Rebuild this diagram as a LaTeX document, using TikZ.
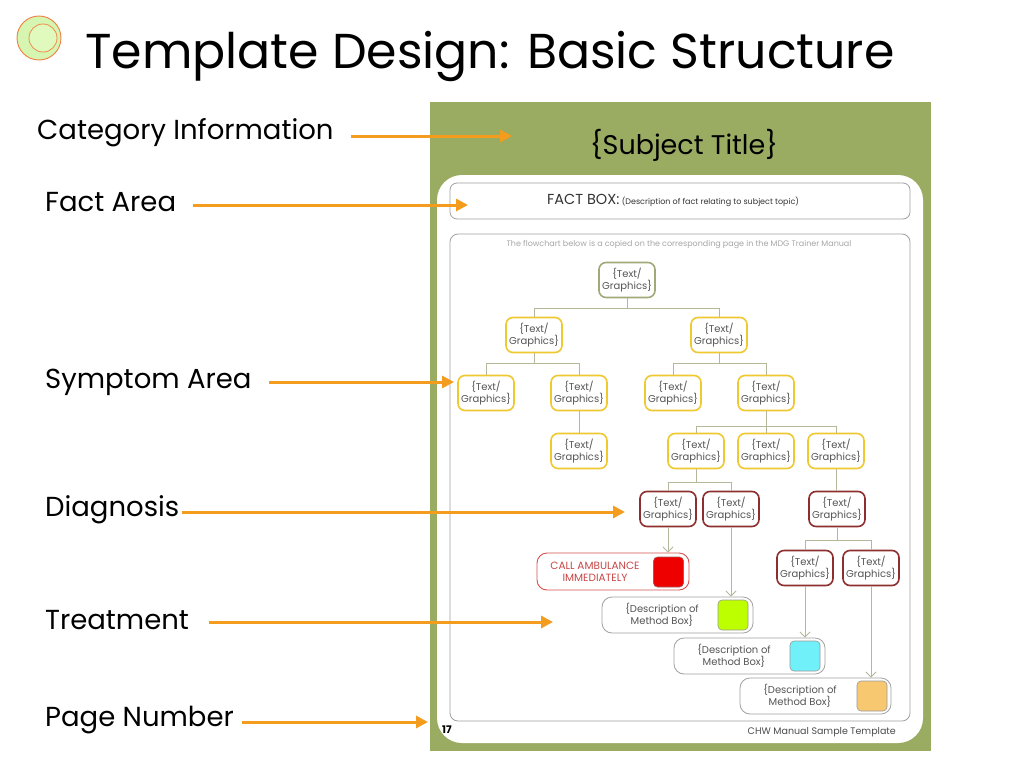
\documentclass[tikz,border=0pt]{standalone}
\usepackage{fontspec}
\setmainfont{Poppins}
\usetikzlibrary{arrows.meta}
\definecolor{pagegreen}{HTML}{9AAB62}
\definecolor{orangeA}{HTML}{F39C1E}
\definecolor{olivebd}{HTML}{A3A878}
\definecolor{yellowbd}{HTML}{F0C830}
\definecolor{redbd}{HTML}{8E2F2F}
\definecolor{linegray}{HTML}{B5B79A}
\definecolor{boxgray}{HTML}{A0A0A0}
\definecolor{txtgray}{HTML}{555555}
\begin{document}
\begin{tikzpicture}[x=1pt,y=-1pt,
  lab/.style={anchor=west,font=\fontsize{27.5}{30}\selectfont,inner sep=0},
  callout/.style={draw=orangeA,line width=3pt,-{Triangle[length=12pt,width=12pt]}},
  tg/.style={draw=yellowbd,line width=1.6pt,rounded corners=7pt,fill=white,minimum width=56pt,minimum height=35pt,inner sep=0,align=center,text=txtgray,font=\fontsize{10}{11.5}\selectfont},
  tgroot/.style={tg,draw=olivebd},
  tgred/.style={tg,draw=redbd},
  conn/.style={draw=linegray,line width=0.9pt},
  varr/.style={draw=linegray,line width=0.9pt,-{Straight Barb[length=5pt,width=10pt]}},
  mbox/.style={draw=boxgray,line width=0.8pt,rounded corners=10pt,fill=white,minimum width=151pt,minimum height=36pt,inner sep=0},
  sq/.style={rounded corners=4pt,minimum width=30pt,minimum height=30pt,inner sep=0,line width=0.6pt},
  mtext/.style={align=center,text=txtgray,font=\fontsize{10}{12}\selectfont,inner sep=0}]
\useasboundingbox (0,0) rectangle (1024,768);
\fill[white] (0,0) rectangle (1024,768);
% logo
\draw[draw={rgb,255:red,240;green,128;blue,64},fill={rgb,255:red,214;green,245;blue,176},line width=0.9pt] (39,38) circle (22);
\draw[draw={rgb,255:red,240;green,140;blue,80},fill={rgb,255:red,224;green,250;blue,190},line width=0.8pt] (43,38) circle (14);
% title
\node[anchor=west,inner sep=0,font=\fontsize{49}{56}\selectfont] (title) at (85,56) {Template Design: Basic Structure};
% page
\fill[pagegreen] (430,102) rectangle (931,751);
\fill[white,rounded corners=25pt] (437,175) rectangle (923,743);
\node[font=\fontsize{27}{30}\selectfont,inner sep=0] (subj) at (684,145) {\{Subject Title\}};
\node[draw=boxgray,line width=0.8pt,rounded corners=7pt,minimum width=460pt,minimum height=36pt,inner sep=0] (fact) at (680,201) {};
\node[inner sep=0,text=black!80] (facttxt) at (673,200) {\fontsize{14.5}{16}\selectfont FACT BOX:\,\fontsize{8}{9}\selectfont(Description of fact relating to subject topic)};
\node[draw=boxgray,line width=0.8pt,rounded corners=8pt,minimum width=460pt,minimum height=487pt,inner sep=0] (flow) at (680,477.5) {};
\node[inner sep=0,text=black!35,font=\fontsize{8}{9}\selectfont] (hdr) at (679,245) {The flowchart below is a copied on the corresponding page in the MDG Trainer Manual};
% tree nodes
\node[tgroot] (r) at (627,280) {\{Text/\\Graphics\}};
\node[tg] (a) at (534,335) {\{Text/\\Graphics\}};
\node[tg] (b) at (719,335) {\{Text/\\Graphics\}};
\node[tg] (a1) at (486,393) {\{Text/\\Graphics\}};
\node[tg] (a2) at (579,393) {\{Text/\\Graphics\}};
\node[tg] (b1) at (673,393) {\{Text/\\Graphics\}};
\node[tg] (b2) at (766,393) {\{Text/\\Graphics\}};
\node[tg] (a21) at (579,451) {\{Text/\\Graphics\}};
\node[tg] (c1) at (696,451) {\{Text/\\Graphics\}};
\node[tg] (c2) at (766,451) {\{Text/\\Graphics\}};
\node[tg] (c3) at (836,451) {\{Text/\\Graphics\}};
\node[tgred] (d1) at (668,509) {\{Text/\\Graphics\}};
\node[tgred] (d2) at (731,509) {\{Text/\\Graphics\}};
\node[tgred] (d3) at (837,509) {\{Text/\\Graphics\}};
\node[tgred] (e1) at (805,568) {\{Text/\\Graphics\}};
\node[tgred] (e2) at (871,568) {\{Text/\\Graphics\}};
% connectors
\draw[conn] (r.south) -- ++(0,10) coordinate (rj);
\draw[conn] (a.north) |- (rj) -| (b.north);
\draw[conn] (a.south) -- ++(0,10) coordinate (aj);
\draw[conn] (a1.north) |- (aj) -| (a2.north);
\draw[conn] (b.south) -- ++(0,10) coordinate (bj);
\draw[conn] (b1.north) |- (bj) -| (b2.north);
\draw[conn] (a2.south) -- (a21.north);
\draw[conn] (b2.south) -- ++(0,15) coordinate (b2j);
\draw[conn] (c1.north) |- (b2j) -| (c3.north);
\draw[conn] (b2j) -- (c2.north);
\draw[conn] (c1.south) -- ++(0,13) coordinate (cj);
\draw[conn] (d1.north) |- (cj) -| (d2.north);
\draw[conn] (c3.south) -- (c3.south |- d3.north);
\draw[conn] (d3.south) -- ++(0,13) coordinate (dj);
\draw[conn] (e1.north) |- (dj) -| (e2.north);
% ambulance box
\node[draw={rgb,255:red,215;green,80;blue,80},line width=0.9pt,rounded corners=10pt,fill=white,minimum width=152pt,minimum height=37pt,inner sep=0] (amb) at (613,571.5) {};
\node[mtext,text={rgb,255:red,200;green,70;blue,70},font=\fontsize{10.5}{12.5}\selectfont] (ambt) at (595,572) {CALL AMBULANCE\\IMMEDIATELY};
\node[sq,draw=redbd!80,fill={rgb,255:red,238;green,0;blue,0}] (ambsq) at (668.5,572) {};
% method boxes
\node[mbox] (m1) at (677.5,615) {};
\node[mtext] (m1t) at (662,615) {\{Description of\\Method Box\}};
\node[sq,draw=black!40,fill={rgb,255:red,190;green,255;blue,0}] (m1s) at (733,615) {};
\node[mbox] (m2) at (749.5,656) {};
\node[mtext] (m2t) at (734,656) {\{Description of\\Method Box\}};
\node[sq,draw=black!40,fill={rgb,255:red,112;green,240;blue,248}] (m2s) at (805,656) {};
\node[mbox] (m3) at (815.5,696) {};
\node[mtext] (m3t) at (800,696) {\{Description of\\Method Box\}};
\node[sq,draw=black!40,fill={rgb,255:red,248;green,200;blue,112}] (m3s) at (872,696) {};
% arrows
\draw[varr] (d1.south) -- (amb.north -| d1.south);
\draw[varr] (d2.south) -- (m1.north -| d2.south);
\draw[varr] (e1.south) -- (m2.north -| e1.south);
\draw[varr] (e2.south) -- (m3.north -| e2.south);
% footer
\node[anchor=west,inner sep=0,font=\bfseries\fontsize{10.5}{12}\selectfont] (pg) at (442,730) {17};
\node[anchor=east,inner sep=0,text=black!70,font=\fontsize{9.5}{11}\selectfont] (foot) at (896,732) {CHW Manual Sample Template};
% labels
\node[lab] (l1) at (37,133) {Category Information};
\node[lab] (l2) at (45,202) {Fact Area};
\node[lab] (l3) at (45,382) {Symptom Area};
\node[lab] (l4) at (45,510) {Diagnosis};
\node[lab] (l5) at (45,620) {Treatment};
\node[lab] (l6) at (45,720) {Page Number};
\coordinate (t1) at (512,136);
\coordinate (t2) at (468,205);
\coordinate (t3) at (454,382);
\coordinate (t4) at (625,512);
\coordinate (t5) at (553,622);
\coordinate (t6) at (428,722);
\draw[callout] (l1.east) ++(17,3) -- (t1);
\draw[callout] (l2.east) ++(17,3) -- (t2);
\draw[callout] (l3.east) ++(17,0) -- (t3);
\draw[callout] (l4.east) ++(3,2) -- (t4);
\draw[callout] (l5.east) ++(20,2) -- (t5);
\draw[callout] (l6.east) ++(8,2) -- (t6);
\end{tikzpicture}
\end{document}
